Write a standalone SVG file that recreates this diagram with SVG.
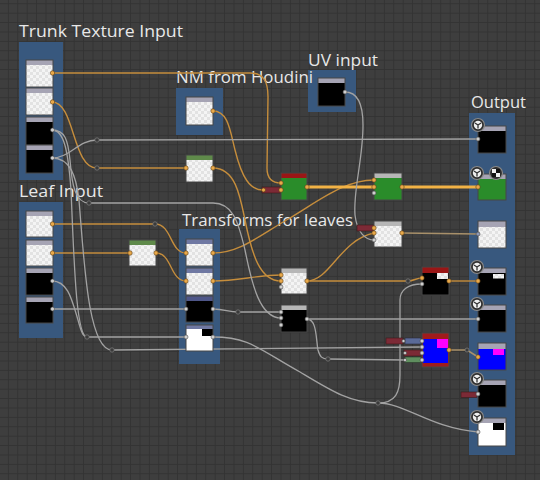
<svg xmlns="http://www.w3.org/2000/svg" width="540" height="480" viewBox="0 0 540 480">
<defs>
<pattern id="grid" x="7.9" y="3.3" width="9.4" height="9.4" patternUnits="userSpaceOnUse">
<path d="M0,0.5 H9.4 M0.5,0 V9.4" stroke="#333333" stroke-width="1" fill="none"/>
</pattern>
<pattern id="chk" width="6" height="6" patternUnits="userSpaceOnUse">
<rect width="6" height="6" fill="#f4f4f4"/>
<rect width="3" height="3" fill="#e2e2e2"/>
<rect x="3" y="3" width="3" height="3" fill="#e2e2e2"/>
</pattern>
<g id="icon3d">
<circle r="6.5" fill="#2e2e2e" stroke="#8a8a8a" stroke-width="1.2"/>
<circle r="4.2" fill="#eeeeee"/>
<path d="M0,0 L0,3.6 M0,0 L-3.1,-2 M0,0 L3.1,-2" stroke="#333" stroke-width="1.3" fill="none"/>
</g>
</defs>
<style>
.bg{fill:#3e3e3e}
.frame{fill:#38587e}
.lbl{fill:#e8e8e8;font-family:"Open Sans","Noto Sans","DejaVu Sans",sans-serif;font-size:17px}
.nb{fill:none;stroke:#474747;stroke-width:1}
.hd{fill:#a6a4b4}
.hdl{fill:#b6b6b6}
.hdb{fill:#6f78a2}
.hdr{fill:#9a1616}
.hdg{fill:#5f8a4a}
.chk{fill:url(#chk)}
.blk{fill:#000}
.grn{fill:#2a8c2a}
.o{fill:none;stroke:#c58d3c;stroke-width:1.4}
.ot{fill:none;stroke:#f2b245;stroke-width:3}
.g{fill:none;stroke:#a2a2a2;stroke-width:1.3}
.t{fill:none;stroke:#a8906a;stroke-width:1.6}
.po{fill:#e9a94a;stroke:#5a3c14;stroke-width:0.6}
.pg{fill:#cfcfcf;stroke:#4a4a4a;stroke-width:0.6}
.rr{fill:#3a3a3a;stroke:#777;stroke-width:0.8}
.pr{fill:#7c2a36;stroke:#3a1a1a;stroke-width:0.6}
.pb{fill:#5a6a98;stroke:#2a2a3a;stroke-width:0.6}
.pgr{fill:#5f8e5f;stroke:#2a3a2a;stroke-width:0.6}
</style>
<rect class="bg" width="540" height="480"/>
<rect fill="url(#grid)" width="540" height="480"/>

<!-- frames -->
<g id="frame-trunk"><rect class="frame" x="19" y="42" width="44" height="138"/><text class="lbl" x="19" y="37" textLength="164" lengthAdjust="spacingAndGlyphs">Trunk Texture Input</text></g>
<g id="frame-leaf"><rect class="frame" x="19" y="202" width="44" height="136"/><text class="lbl" x="19" y="197" textLength="84" lengthAdjust="spacingAndGlyphs">Leaf Input</text></g>
<g id="frame-uv"><rect class="frame" x="308" y="70" width="48" height="42"/><text class="lbl" x="308" y="66" textLength="70" lengthAdjust="spacingAndGlyphs">UV input</text></g>
<g id="frame-nm"><rect class="frame" x="176" y="88" width="47" height="47"/><text class="lbl" x="176" y="83" textLength="137" lengthAdjust="spacingAndGlyphs">NM from Houdini</text></g>
<g id="frame-transforms"><rect class="frame" x="179" y="229" width="41" height="135"/><text class="lbl" x="182" y="226" textLength="171" lengthAdjust="spacingAndGlyphs">Transforms for leaves</text></g>
<g id="frame-output"><rect class="frame" x="469" y="113" width="46" height="342"/><text class="lbl" x="471" y="108" textLength="55" lengthAdjust="spacingAndGlyphs">Output</text></g>

<!-- connectors -->
<g id="connectors">
<path class="o" d="M52,73 L250,73 C264,73 268,82 268,97 L267,168 C267,179 272,183 281,183"/>
<path class="o" d="M52,102 C75,102 72,168 97,168 L186,168"/>
<path class="o" d="M213,168 C235,168 240,195 245,220 C252,255 260,281 281,281"/>
<path class="o" d="M213,111 C228,111 230,130 235,150 C242,178 250,190 263,190"/>
<path class="o" d="M52,224 L155,224 C172,224 170,253 186,253"/>
<path class="o" d="M52,253 L130,253"/>
<path class="o" d="M156,253 C172,253 170,281 186,281"/>
<path class="o" d="M213,253 C240,253 260,235 290,218 C320,200 345,180 374,180"/>
<path class="o" d="M213,281 C240,281 255,275 281,275"/>
<path class="o" d="M307,281 C330,281 340,240 374,233"/>
<path class="o" d="M307,281 L408,281 C414,281 416,278 422,278"/>
<path class="o" d="M449,281 L478,281"/>
<path class="ot" d="M307,187 L374,187"/>
<path class="ot" d="M402,187 L478,187"/>
<path class="t" d="M402,233 L478,234"/>
<path class="t" d="M449,350 L467,350 L478,357"/>
<path class="g" d="M52,158 C70,158 78,140 97,140 L478,139"/>
<path class="g" d="M52,130 C65,130 68,140 70,160 C72,185 75,203 89,203 L213,203 C232,203 238,220 245,250 C252,285 260,318 281,318"/>
<path class="g" d="M52,130 C64,130 68,150 71,190 C74,260 76,337 87,337"/>
<path class="g" d="M52,158 C70,158 76,175 79,200 C84,260 88,350 112,350 L422,347"/>
<path class="g" d="M52,281 C68,281 72,300 78,320 C82,335 84,337 87,337 L186,337"/>
<path class="g" d="M52,309 L186,309"/>
<path class="g" d="M213,309 C225,309 228,312 238,312 L281,312"/>
<path class="g" d="M213,337 C250,337 260,350 300,372 C330,390 350,403 378,403"/>
<path class="g" d="M378,403 C405,403 430,428 478,432"/>
<path class="g" d="M378,403 C396,403 400,392 400,375 L400,300 C400,290 408,284 422,284"/>
<path class="g" d="M307,319 L478,319"/>
<path class="g" d="M307,319 C317,319 316,340 318,350 C320,357 322,359 328,359 L405,360"/>
<path class="g" d="M345,92 C358,92 363,105 363,125 C363,160 353,190 355,215 C357,232 365,240 374,240"/>
<circle class="rr" cx="97" cy="168" r="2.2"/>
<circle class="rr" cx="155" cy="224" r="2.2"/>
<circle class="rr" cx="97" cy="140" r="2.2"/>
<circle class="rr" cx="89" cy="203" r="2.2"/>
<circle class="rr" cx="87" cy="337" r="2.2"/>
<circle class="rr" cx="112" cy="350" r="2.2"/>
<circle class="rr" cx="238" cy="312" r="2.2"/>
<circle class="rr" cx="378" cy="403" r="2.2"/>
<circle class="rr" cx="328" cy="359" r="2.2"/>
<circle class="rr" cx="408" cy="281" r="2.2"/>
<circle class="rr" cx="467" cy="350" r="2"/>
</g>

<!-- trunk nodes -->
<g id="trunk-1"><rect class="chk" x="26" y="60" width="27" height="27"/><rect class="hd" x="26" y="60" width="27" height="5"/><rect class="nb" x="26" y="60" width="27" height="27"/><circle class="po" cx="52.5" cy="73" r="2.2"/></g>
<g id="trunk-2"><rect class="chk" x="26" y="88" width="27" height="27"/><rect class="hd" x="26" y="88" width="27" height="5"/><rect class="nb" x="26" y="88" width="27" height="27"/><circle class="po" cx="52.5" cy="102" r="2.2"/></g>
<g id="trunk-3"><rect class="blk" x="26" y="117" width="27" height="28"/><rect class="hd" x="26" y="117" width="27" height="5"/><rect class="nb" x="26" y="117" width="27" height="28"/><circle class="pg" cx="52.5" cy="130" r="2"/></g>
<g id="trunk-4"><rect class="blk" x="26" y="145" width="27" height="28"/><rect class="hd" x="26" y="145" width="27" height="5"/><rect class="nb" x="26" y="145" width="27" height="28"/><circle class="pg" cx="52.5" cy="158" r="2"/></g>

<!-- leaf nodes -->
<g id="leaf-1"><rect class="chk" x="26" y="211" width="27" height="26"/><rect class="hd" x="26" y="211" width="27" height="5"/><rect class="nb" x="26" y="211" width="27" height="26"/><circle class="po" cx="52.5" cy="224" r="2.2"/></g>
<g id="leaf-2"><rect class="chk" x="26" y="240" width="27" height="26"/><rect class="hd" x="26" y="240" width="27" height="5"/><rect class="nb" x="26" y="240" width="27" height="26"/><circle class="po" cx="52.5" cy="253" r="2.2"/></g>
<g id="leaf-3"><rect class="blk" x="26" y="268" width="27" height="27"/><rect class="hd" x="26" y="268" width="27" height="5"/><rect class="nb" x="26" y="268" width="27" height="27"/><circle class="pg" cx="52.5" cy="281" r="2"/></g>
<g id="leaf-4"><rect class="blk" x="26" y="297" width="27" height="26"/><rect class="hd" x="26" y="297" width="27" height="5"/><rect class="nb" x="26" y="297" width="27" height="26"/><circle class="pg" cx="52.5" cy="309" r="2"/></g>

<!-- NM / UV -->
<g id="nm-node"><rect class="chk" x="186" y="97" width="27" height="28"/><rect class="hd" x="186" y="97" width="27" height="5"/><rect class="nb" x="186" y="97" width="27" height="28"/><circle class="po" cx="213" cy="111" r="2.2"/></g>
<g id="uv-node"><rect class="blk" x="318" y="78" width="27" height="28"/><rect class="hd" x="318" y="78" width="27" height="5"/><rect class="nb" x="318" y="78" width="27" height="28"/><circle class="pg" cx="345" cy="92" r="2"/></g>

<!-- green small nodes -->
<g id="trunk-transform"><rect class="chk" x="186" y="155" width="27" height="27"/><rect class="hdg" x="186" y="155" width="27" height="5"/><rect class="nb" x="186" y="155" width="27" height="27"/><circle class="po" cx="186" cy="168" r="2.2"/><circle class="po" cx="213" cy="168" r="2.2"/></g>
<g id="leaf-transform"><rect class="chk" x="129" y="240" width="27" height="26"/><rect class="hdg" x="129" y="240" width="27" height="5"/><rect class="nb" x="129" y="240" width="27" height="26"/><circle class="po" cx="130" cy="253" r="2.2"/><circle class="po" cx="156" cy="253" r="2.2"/></g>

<!-- transforms for leaves -->
<g id="tl-1"><rect class="chk" x="186" y="239" width="27" height="27"/><rect class="hdb" x="186" y="239" width="27" height="5"/><rect class="nb" x="186" y="239" width="27" height="27"/><circle class="po" cx="186" cy="253" r="2.2"/><circle class="po" cx="213" cy="253" r="2.2"/></g>
<g id="tl-2"><rect class="chk" x="186" y="268" width="27" height="27"/><rect class="hdb" x="186" y="268" width="27" height="5"/><rect class="nb" x="186" y="268" width="27" height="27"/><circle class="po" cx="186" cy="281" r="2.2"/><circle class="po" cx="213" cy="281" r="2.2"/></g>
<g id="tl-3"><rect class="blk" x="186" y="296" width="27" height="26"/><rect fill="#4e5688" x="186" y="296" width="27" height="5"/><rect class="nb" x="186" y="296" width="27" height="26"/><circle class="pg" cx="186" cy="309" r="2"/><circle class="pg" cx="213" cy="309" r="2"/></g>
<g id="tl-4"><rect fill="#ffffff" x="186" y="325" width="27" height="26"/><rect class="blk" x="202" y="329" width="11" height="7"/><rect class="hdb" x="186" y="325" width="27" height="4"/><rect class="nb" x="186" y="325" width="27" height="26"/><circle class="pg" cx="186" cy="337" r="2"/><circle class="pg" cx="213" cy="337" r="2"/></g>

<!-- middle nodes -->
<g id="blend-red"><rect class="pr" x="262" y="187" width="19" height="6"/><circle class="po" cx="263.5" cy="190" r="2"/><rect class="grn" x="281" y="173" width="26" height="27"/><rect class="hdr" x="281" y="173" width="26" height="5"/><rect class="nb" x="281" y="173" width="26" height="27"/><circle class="po" cx="281" cy="183" r="2.2"/><circle class="po" cx="281" cy="190" r="2.2"/><circle class="po" cx="307" cy="187" r="2.2"/></g>
<g id="blend-green"><rect class="grn" x="374" y="173" width="28" height="27"/><rect class="hdl" x="374" y="173" width="28" height="5"/><rect class="nb" x="374" y="173" width="28" height="27"/><circle class="po" cx="374" cy="180" r="2.2"/><circle class="po" cx="374" cy="187" r="2.2"/><circle class="pg" cx="374" cy="193" r="2"/><circle class="po" cx="402" cy="187" r="2.2"/></g>
<g id="blend-white-2"><rect class="pr" x="357" y="225" width="17" height="6"/><rect class="chk" x="374" y="221" width="28" height="26"/><rect class="hdl" x="374" y="221" width="28" height="5"/><rect class="nb" x="374" y="221" width="28" height="26"/><circle class="po" cx="374" cy="228" r="2.2"/><circle class="po" cx="374" cy="233" r="2.2"/><circle class="pg" cx="374" cy="240" r="2"/><circle class="po" cx="402" cy="233" r="2.2"/></g>
<g id="blend-white-1"><rect class="chk" x="281" y="268" width="26" height="26"/><rect class="hdl" x="281" y="268" width="26" height="5"/><rect class="nb" x="281" y="268" width="26" height="26"/><circle class="po" cx="281" cy="275" r="2.2"/><circle class="po" cx="281" cy="281" r="2.2"/><circle class="pg" cx="281" cy="287" r="2"/><circle class="po" cx="307" cy="281" r="2.2"/></g>
<g id="blend-black"><rect class="blk" x="281" y="305" width="26" height="27"/><rect class="hdl" x="281" y="305" width="26" height="5"/><rect class="nb" x="281" y="305" width="26" height="27"/><circle class="pg" cx="281" cy="312" r="2"/><circle class="pg" cx="281" cy="318" r="2"/><circle class="pg" cx="281" cy="325" r="2"/><circle class="pg" cx="307" cy="319" r="2"/></g>
<g id="red-black"><rect class="blk" x="422" y="267" width="27" height="28"/><rect class="hdr" x="422" y="267" width="27" height="6"/><rect class="chk" x="437" y="273" width="11" height="6"/><rect class="nb" x="422" y="267" width="27" height="28"/><circle class="po" cx="422" cy="278" r="2.2"/><circle class="pg" cx="422" cy="284" r="2"/><circle class="po" cx="449" cy="281" r="2.2"/></g>
<g id="red-blue"><rect class="pr" x="386" y="338" width="17" height="6"/><rect class="pb" x="405" y="338" width="16" height="6"/><rect class="pr" x="404" y="350" width="17" height="6"/><rect class="pgr" x="405" y="357" width="16" height="5.5"/><rect fill="#a01c1c" x="422" y="333" width="27" height="34"/><rect fill="#0000ff" x="423" y="339" width="25" height="24"/><rect fill="#ff00ff" x="437" y="339" width="11" height="9"/><rect class="nb" x="422" y="333" width="27" height="34"/><circle class="pg" cx="403.5" cy="341" r="1.6"/><circle class="pg" cx="405" cy="353" r="1.6"/><circle class="pg" cx="405" cy="360" r="1.6"/><circle class="pg" cx="422" cy="341" r="2"/><circle class="pg" cx="422" cy="347" r="2"/><circle class="pg" cx="422" cy="353" r="2"/><circle class="pg" cx="422" cy="360" r="2"/><circle class="po" cx="449" cy="350" r="2.2"/></g>

<!-- outputs -->
<g id="out-1"><rect class="blk" x="478" y="126" width="28" height="27"/><rect class="hd" x="478" y="126" width="28" height="5"/><rect class="nb" x="478" y="126" width="28" height="27"/><circle class="pg" cx="478" cy="139" r="2"/><use href="#icon3d" x="478" y="125"/></g>
<g id="out-2"><rect class="grn" x="478" y="174" width="28" height="26"/><rect class="hd" x="478" y="174" width="28" height="5"/><rect class="nb" x="478" y="174" width="28" height="26"/><circle class="po" cx="478" cy="187" r="2.2"/><use href="#icon3d" x="477" y="173"/><g><circle cx="496" cy="173" r="6.5" fill="#2e2e2e" stroke="#8a8a8a" stroke-width="1.2"/><rect x="492" y="169" width="8" height="8" fill="#eee"/><rect x="496" y="169" width="4" height="4" fill="#111"/><rect x="492" y="173" width="4" height="4" fill="#111"/></g></g>
<g id="out-3"><rect class="chk" x="478" y="221" width="28" height="27"/><rect class="hd" x="478" y="221" width="28" height="6"/><rect class="nb" x="478" y="221" width="28" height="27"/><circle cx="478" cy="234" r="2" fill="#8e9ab8" stroke="#444" stroke-width="0.6"/></g>
<g id="out-4"><rect class="blk" x="478" y="268" width="28" height="27"/><rect class="hd" x="478" y="268" width="28" height="5"/><rect class="chk" x="493" y="274" width="11" height="4.5"/><rect class="nb" x="478" y="268" width="28" height="27"/><circle class="po" cx="478" cy="281" r="2.2"/><use href="#icon3d" x="477" y="267"/></g>
<g id="out-5"><rect class="blk" x="478" y="305" width="28" height="27"/><rect class="hd" x="478" y="305" width="28" height="5"/><rect class="nb" x="478" y="305" width="28" height="27"/><circle class="pg" cx="478" cy="319" r="2"/><use href="#icon3d" x="477" y="304"/></g>
<g id="out-6"><rect fill="#0000ff" x="478" y="343" width="28" height="27"/><rect class="hd" x="478" y="343" width="28" height="6"/><rect fill="#ff00ff" x="493" y="349" width="11" height="6"/><rect class="nb" x="478" y="343" width="28" height="27"/><circle class="po" cx="478" cy="357" r="2.2"/></g>
<g id="out-7"><rect class="pr" x="461" y="392" width="16" height="5.5"/><rect class="blk" x="478" y="380" width="28" height="27"/><rect class="hd" x="478" y="380" width="28" height="5"/><rect class="nb" x="478" y="380" width="28" height="27"/><circle class="pg" cx="478" cy="394" r="2"/><use href="#icon3d" x="477" y="379"/></g>
<g id="out-8"><rect fill="#ffffff" x="478" y="418" width="28" height="28"/><rect class="hd" x="478" y="418" width="28" height="5"/><rect class="blk" x="493" y="423" width="11" height="7"/><rect class="nb" x="478" y="418" width="28" height="28"/><circle class="pg" cx="478" cy="432" r="2"/><use href="#icon3d" x="477" y="417"/></g>
</svg>
